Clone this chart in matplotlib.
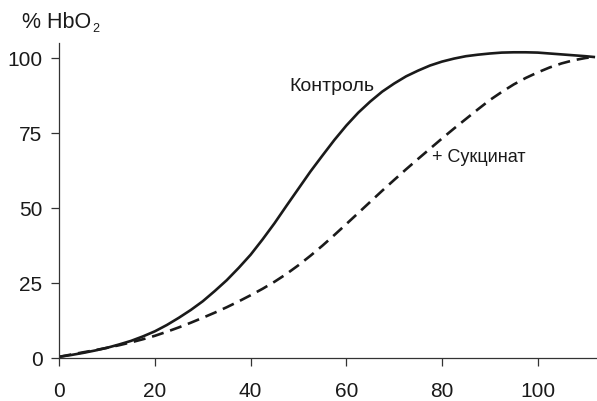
import matplotlib
matplotlib.use('Agg')
import matplotlib.pyplot as plt

plt.rcParams['font.family'] = ['Liberation Sans', 'DejaVu Sans']

# pO2 readings (mm Hg) and saturation (% HbO2) for both curves
po2 = [0, 2.5, 5, 7.5, 10, 12.5, 15, 17.5, 20, 22.5, 25, 27.5, 30, 32.5,
       35, 37.5, 40, 42.5, 45, 47.5, 50, 52.5, 55, 57.5, 60, 62.5, 65,
       67.5, 70, 72.5, 75, 77.5, 80, 82.5, 85, 87.5, 90, 92.5, 95, 97.5,
       100, 102.5, 105, 107.5, 110, 112]
control = [0.5, 1.1, 1.8, 2.6, 3.5, 4.6, 5.8, 7.3, 9.0, 11.1, 13.5, 16.1,
           19.0, 22.4, 26.0, 30.1, 34.5, 39.6, 45.0, 50.8, 56.5, 62.2,
           67.5, 72.7, 77.5, 81.8, 85.5, 88.8, 91.5, 93.9, 95.8, 97.5,
           98.8, 99.8, 100.6, 101.1, 101.5, 101.8, 101.9, 101.9, 101.8,
           101.5, 101.2, 100.9, 100.6, 100.3]
succinate = [0.5, 1.25, 2.0, 2.7, 3.5, 4.35, 5.3, 6.35, 7.5, 8.85, 10.3,
             11.85, 13.5, 15.2, 17.0, 18.95, 21.0, 23.15, 25.5, 28.1, 31.0,
             34.15, 37.5, 41.05, 44.7, 48.4, 52.1, 55.8, 59.4, 62.95, 66.4,
             69.8, 73.2, 76.5, 79.7, 82.9, 86.0, 88.7, 91.2, 93.35, 95.2,
             96.85, 98.2, 99.25, 100.0, 100.4]

x_ticks = [0, 20, 40, 60, 80, 100]
y_ticks = [0, 25, 50, 75, 100]

fig = plt.figure(figsize=(5.97, 4.01), dpi=100)
ax = fig.add_axes([0.0993, 0.1065, 0.9007, 0.7863])

ink = '#1a1a1a'
ax.plot(po2, control, color=ink, lw=1.9, solid_capstyle='butt')
ax.plot(po2, succinate, color=ink, lw=1.9, linestyle=(0, (4.6, 2.6)))

ax.set_xlim(0, 112.4)
ax.set_ylim(0, 105)
ax.set_xticks(x_ticks)
ax.set_yticks(y_ticks)

for side in ['top', 'right']:
    ax.spines[side].set_visible(False)
for side in ['left', 'bottom']:
    ax.spines[side].set_color('#333333')
    ax.spines[side].set_linewidth(0.9)

ax.tick_params(axis='both', direction='out', length=6, width=0.9,
               color='#333333', labelsize=15, labelcolor='#1a1a1a')
ax.tick_params(axis='x', pad=11)
ax.tick_params(axis='y', pad=6)

# curve labels
ax.text(57, 90.6, 'Контроль', fontsize=14, ha='center', va='center',
        color=ink)
ax.text(77.9, 66.8, '+ Сукцинат', fontsize=13, ha='left', va='center',
        color=ink)

# axis title with a small subscript
t = fig.text(22 / 597, 1 - 22.5 / 401, '% HbO', fontsize=15.5,
             ha='left', va='center', color=ink)
ax.annotate('2', xy=(1, 0), xycoords=t, xytext=(0.5, -1.5),
            textcoords='offset points', fontsize=9, ha='left',
            va='bottom', color=ink, annotation_clip=False)

fig.savefig('out.png', dpi=100)
